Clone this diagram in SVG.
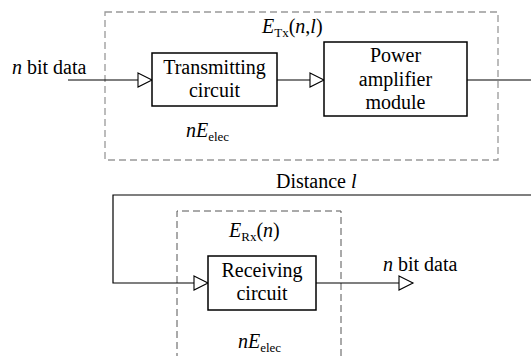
<svg xmlns="http://www.w3.org/2000/svg" width="531" height="356" viewBox="0 0 531 356">
  <defs>
    <!-- hollow triangular arrowhead shared by all connectors -->
    <marker id="hollow" markerUnits="userSpaceOnUse" markerWidth="16" markerHeight="16" refX="14" refY="7" orient="auto" overflow="visible">
      <path d="M0,0 L14,7 L0,14 Z" fill="#fff" stroke="#000" stroke-width="1.1"/>
    </marker>
  </defs>

  <rect width="531" height="356" fill="#fff"/>

  <!-- energy zones -->
  <g id="zone-tx">
    <rect x="105" y="12" width="393" height="148" fill="none" stroke="#999" stroke-width="1.3" stroke-dasharray="7 4"/>
    <text x="262" y="33" font-family="Liberation Serif" font-size="20"><tspan font-style="italic">E</tspan><tspan font-size="13" dy="4">Tx</tspan><tspan dy="-4">(</tspan><tspan font-style="italic">n</tspan>,<tspan font-style="italic">l</tspan>)</text>
    <text x="186" y="137" font-family="Liberation Serif" font-size="20"><tspan font-style="italic">nE</tspan><tspan font-size="13" dy="4">elec</tspan></text>
  </g>
  <g id="zone-rx">
    <path d="M177,360 V211 H341 V360" fill="none" stroke="#555" stroke-width="1" stroke-dasharray="7 4"/>
    <text x="229" y="237" font-family="Liberation Serif" font-size="20"><tspan font-style="italic">E</tspan><tspan font-size="13" dy="4">Rx</tspan><tspan dy="-4">(</tspan><tspan font-style="italic">n</tspan>)</text>
    <text x="238" y="348" font-family="Liberation Serif" font-size="20"><tspan font-style="italic">nE</tspan><tspan font-size="13" dy="4">elec</tspan></text>
  </g>

  <!-- connectors -->
  <g id="connectors" fill="none" stroke="#000" stroke-width="1.2">
    <path d="M68,80 H152" marker-end="url(#hollow)"/>
    <path d="M277,80 H324" marker-end="url(#hollow)"/>
    <path d="M467,80 H531"/>
    <path d="M531,195 H113 V283 H208" marker-end="url(#hollow)"/>
    <path d="M316,283 H413" marker-end="url(#hollow)"/>
  </g>

  <!-- labels on connectors -->
  <g id="label-in">
    <text x="12" y="74" font-family="Liberation Serif" font-size="20"><tspan font-style="italic">n</tspan> bit data</text>
  </g>
  <g id="label-distance">
    <text x="276" y="188" font-family="Liberation Serif" font-size="20">Distance <tspan font-style="italic">l</tspan></text>
  </g>
  <g id="label-out">
    <text x="383" y="271" font-family="Liberation Serif" font-size="20"><tspan font-style="italic">n</tspan> bit data</text>
  </g>

  <!-- blocks -->
  <g id="transmitting-circuit">
    <rect x="152" y="53" width="125" height="53" fill="#fff" stroke="#000" stroke-width="1.5"/>
    <text x="214.5" y="74" text-anchor="middle" font-family="Liberation Serif" font-size="20">Transmitting</text>
    <text x="214.5" y="97" text-anchor="middle" font-family="Liberation Serif" font-size="20">circuit</text>
  </g>
  <g id="power-amplifier">
    <rect x="324" y="42" width="143" height="74" fill="#fff" stroke="#000" stroke-width="1.5"/>
    <text x="395.5" y="62" text-anchor="middle" font-family="Liberation Serif" font-size="20">Power</text>
    <text x="395.5" y="85.5" text-anchor="middle" font-family="Liberation Serif" font-size="20">amplifier</text>
    <text x="395.5" y="109" text-anchor="middle" font-family="Liberation Serif" font-size="20">module</text>
  </g>
  <g id="receiving-circuit">
    <rect x="208" y="256" width="108" height="54" fill="#fff" stroke="#000" stroke-width="1.5"/>
    <text x="262" y="277" text-anchor="middle" font-family="Liberation Serif" font-size="20">Receiving</text>
    <text x="262" y="300" text-anchor="middle" font-family="Liberation Serif" font-size="20">circuit</text>
  </g>
</svg>
